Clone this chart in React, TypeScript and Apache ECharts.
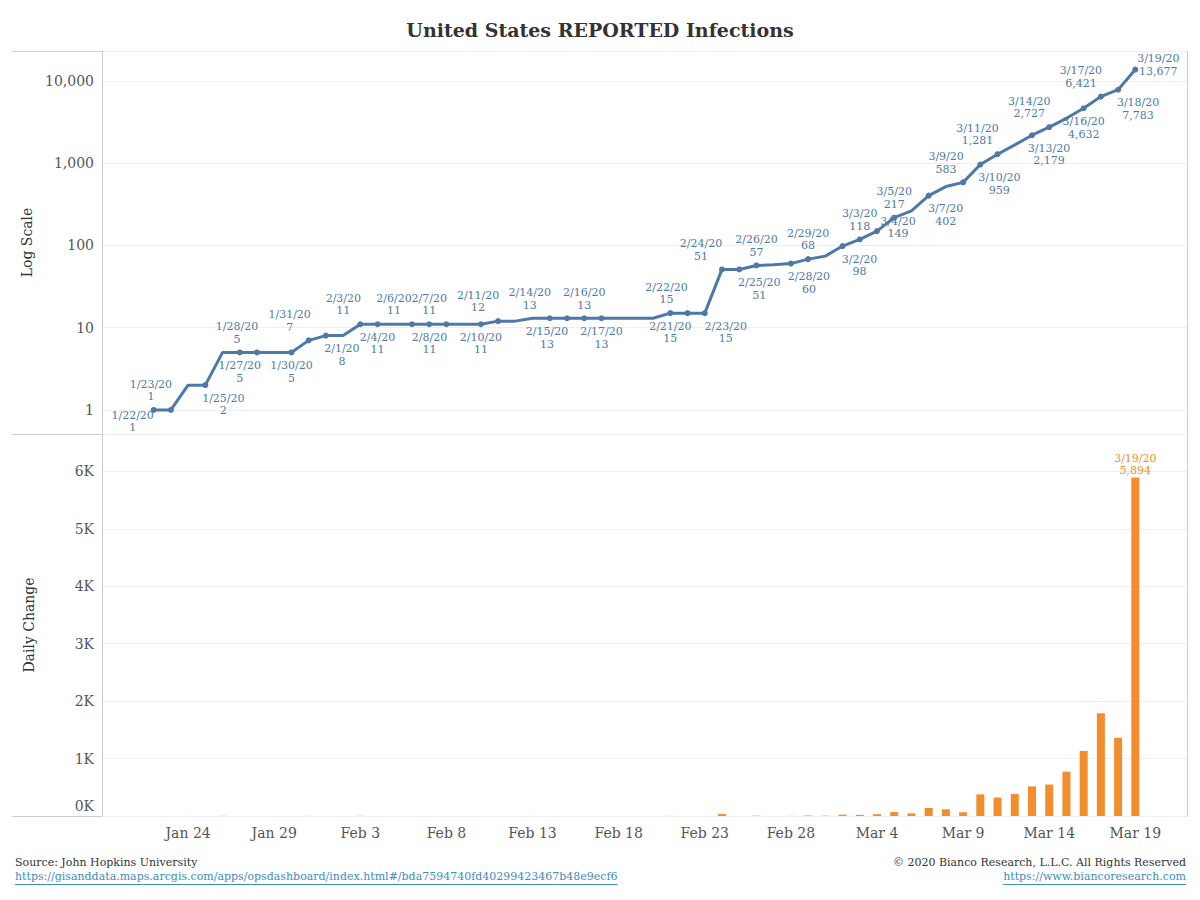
import React, { useEffect, useRef } from "react";
import * as echarts from "echarts";

const dates = [
  "1/22/20", "1/23/20", "1/24/20", "1/25/20", "1/26/20", "1/27/20", "1/28/20", "1/29/20", "1/30/20", "1/31/20",
  "2/1/20", "2/2/20", "2/3/20", "2/4/20", "2/5/20", "2/6/20", "2/7/20", "2/8/20", "2/9/20", "2/10/20",
  "2/11/20", "2/12/20", "2/13/20", "2/14/20", "2/15/20", "2/16/20", "2/17/20", "2/18/20", "2/19/20", "2/20/20",
  "2/21/20", "2/22/20", "2/23/20", "2/24/20", "2/25/20", "2/26/20", "2/27/20", "2/28/20", "2/29/20",
  "3/1/20", "3/2/20", "3/3/20", "3/4/20", "3/5/20", "3/6/20", "3/7/20", "3/8/20", "3/9/20", "3/10/20",
  "3/11/20", "3/12/20", "3/13/20", "3/14/20", "3/15/20", "3/16/20", "3/17/20", "3/18/20", "3/19/20",
];

const cumulative = [
  1, 1, 2, 2, 5, 5, 5, 5, 5, 7,
  8, 8, 11, 11, 11, 11, 11, 11, 11, 11,
  12, 12, 13, 13, 13, 13, 13, 13, 13, 13,
  15, 15, 15, 51, 51, 57, 58, 60, 68,
  74, 98, 118, 149, 217, 262, 402, 518, 583, 959,
  1281, 1663, 2179, 2727, 3499, 4632, 6421, 7783, 13677,
];

const dailyChange = [
  0, 0, 1, 0, 3, 0, 0, 0, 0, 2,
  1, 0, 3, 0, 0, 0, 0, 0, 0, 0,
  1, 0, 1, 0, 0, 0, 0, 0, 0, 0,
  2, 0, 0, 36, 0, 6, 1, 2, 8,
  6, 24, 20, 31, 68, 45, 140, 116, 65, 376,
  322, 382, 516, 548, 772, 1133, 1789, 1362, 5894,
];

const padBefore = ["1/19/20", "1/20/20", "1/21/20"];
const padAfter = ["3/20/20", "3/21/20", "3/22/20"];

const tickDates = ["1/24/20", "1/29/20", "2/3/20", "2/8/20", "2/13/20", "2/18/20", "2/23/20", "2/28/20", "3/4/20", "3/9/20", "3/14/20", "3/19/20"];
const tickLabels = ["Jan 24", "Jan 29", "Feb 3", "Feb 8", "Feb 13", "Feb 18", "Feb 23", "Feb 28", "Mar 4", "Mar 9", "Mar 14", "Mar 19"];

const logTicks = [1, 10, 100, 1000, 10000];
const barTicks = [0, 1000, 2000, 3000, 4000, 5000, 6000];

// label placement for annotated points: [position, dx, dy]
const labelPlacement: Record<string, [string, number, number]> = {
  "1/22/20": ["bottom", -21, -8],
  "1/23/20": ["top", -20, 0],
  "1/25/20": ["bottom", 18, 0],
  "1/27/20": ["bottom", 0, 0],
  "1/28/20": ["top", -20, 0],
  "1/30/20": ["bottom", 0, 0],
  "1/31/20": ["top", -19, 0],
  "2/1/20": ["bottom", 16, 0],
  "2/3/20": ["top", -17, 0],
  "2/4/20": ["bottom", 0, 0],
  "2/6/20": ["top", -18, 0],
  "2/7/20": ["top", 0, 0],
  "2/8/20": ["bottom", -17, 0],
  "2/10/20": ["bottom", 0, 0],
  "2/11/20": ["top", -20, 0],
  "2/14/20": ["top", -20, 0],
  "2/15/20": ["bottom", -20, 0],
  "2/16/20": ["top", 0, 0],
  "2/17/20": ["bottom", 0, 0],
  "2/21/20": ["bottom", 0, 0],
  "2/22/20": ["top", -21, 0],
  "2/23/20": ["bottom", 21, 0],
  "2/24/20": ["top", -21, 0],
  "2/25/20": ["bottom", 20, 0],
  "2/26/20": ["top", 0, 0],
  "2/28/20": ["bottom", 18, 0],
  "2/29/20": ["top", 0, 0],
  "3/2/20": ["bottom", 17, 0],
  "3/3/20": ["top", 0, 0],
  "3/4/20": ["top", 21, 16],
  "3/5/20": ["top", 0, 0],
  "3/7/20": ["bottom", 17, 0],
  "3/9/20": ["top", -17, 0],
  "3/10/20": ["bottom", 19, 0],
  "3/11/20": ["top", -20, 0],
  "3/13/20": ["bottom", 17, 0],
  "3/14/20": ["top", -20, 0],
  "3/16/20": ["bottom", 0, 0],
  "3/17/20": ["top", -20, 0],
  "3/18/20": ["bottom", 20, 0],
  "3/19/20": ["top", 23, 15],
};

const FONT = "'DejaVu Serif', Georgia, serif";
const BLUE = "#4e79a7";
const ORANGE = "#f28e2b";
const LINK = "#3d8dbb";

function fmt(n: number) {
  return n.toLocaleString("en-US");
}

function measure(text: string, size: number) {
  const c = document.createElement("canvas").getContext("2d");
  if (!c) return text.length * size * 0.55;
  c.font = `${size}px "DejaVu Serif"`;
  return c.measureText(text).width;
}

export default function App() {
  const ref = useRef<HTMLDivElement>(null);

  useEffect(() => {
    if (!ref.current) return;
    const chart = echarts.init(ref.current, undefined, { renderer: "svg" });

    const categories = [...padBefore, ...dates, ...padAfter];
    const nullsBefore = padBefore.map(() => "-");
    const nullsAfter = padAfter.map(() => "-");

    const lineData = dates.map((d, i) => {
      const p = labelPlacement[d];
      if (!p) return { value: cumulative[i], symbol: "none" };
      const [pos, dx, dy] = p;
      return {
        value: cumulative[i],
        symbol: "circle",
        symbolSize: 6,
        label: {
          show: true,
          position: pos,
          align: "center",
          distance: 4,
          offset: [dx, dy],
          formatter: `${d}\n${fmt(cumulative[i])}`,
        },
      };
    });

    const barData = dates.map((d, i) => {
      if (i === dates.length - 1) {
        return {
          value: dailyChange[i],
          label: {
            show: true,
            position: "top",
            distance: 1,
            formatter: `${d}\n${fmt(dailyChange[i])}`,
            color: ORANGE,
            fontFamily: FONT,
            fontSize: 11,
            lineHeight: 12,
          },
        };
      }
      return i === 0 ? "-" : dailyChange[i];
    });

    const src1 = "Source: John Hopkins University";
    const link1 = "https://gisanddata.maps.arcgis.com/apps/opsdashboard/index.html#/bda7594740fd40299423467b48e9ecf6";
    const src2 = "\u00a9 2020 Bianco Research, L.L.C. All Rights Reserved";
    const link2 = "https://www.biancoresearch.com";
    const fs = 11;
    const w1 = measure(link1, fs);
    const w2 = measure(link2, fs);

    const sep = { stroke: "#cccccc", lineWidth: 1 };

    chart.setOption({
      animation: false,
      backgroundColor: "#ffffff",
      title: {
        text: "United States REPORTED Infections",
        left: "center",
        top: 15,
        textStyle: { fontFamily: FONT, fontWeight: "bold", fontSize: 19, color: "#333333" },
      },
      grid: [
        { left: 102, right: 13, top: 51, height: 383 },
        { left: 102, right: 13, top: 434, height: 382 },
      ],
      xAxis: [
        {
          type: "category",
          gridIndex: 0,
          data: categories,
          boundaryGap: false,
          axisLine: { show: false },
          axisTick: { show: false },
          axisLabel: { show: false },
          splitLine: { show: false },
        },
        {
          type: "category",
          gridIndex: 1,
          data: categories,
          boundaryGap: false,
          axisLine: { show: false },
          axisTick: { show: false },
          splitLine: { show: false },
          axisLabel: {
            interval: (_idx: number, val: string) => tickDates.includes(val),
            formatter: (val: string) => {
              const k = tickDates.indexOf(val);
              return k >= 0 ? tickLabels[k] : "";
            },
            margin: 10,
            fontFamily: FONT,
            fontSize: 14,
            color: "#555555",
          },
        },
      ],
      yAxis: [
        {
          type: "log",
          logBase: 10,
          gridIndex: 0,
          min: 0.51,
          max: 23000,
          name: "Log Scale",
          nameLocation: "middle",
          nameGap: 66,
          nameTextStyle: { fontFamily: FONT, fontSize: 14, color: "#333333" },
          axisLine: { show: true, lineStyle: { color: "#cccccc" } },
          axisTick: { show: false },
          splitLine: { show: true, lineStyle: { color: "#efefef" } },
          axisLabel: {
            margin: 8,
            fontFamily: FONT,
            fontSize: 14,
            color: "#555555",
            formatter: (v: number) => {
              const t = logTicks.find((x) => Math.abs(x - v) / x < 1e-6);
              return t ? fmt(t) : "";
            },
          },
        },
        {
          type: "value",
          gridIndex: 1,
          min: 0,
          max: 6650,
          interval: 1000,
          name: "Daily Change",
          nameLocation: "middle",
          nameGap: 66,
          nameTextStyle: { fontFamily: FONT, fontSize: 14, color: "#333333" },
          axisLine: { show: true, lineStyle: { color: "#cccccc" } },
          axisTick: { show: false },
          splitLine: { show: true, lineStyle: { color: "#efefef" } },
          axisLabel: {
            margin: 8,
            fontFamily: FONT,
            fontSize: 14,
            color: "#555555",
            formatter: (v: number) => {
              if (!barTicks.includes(v)) return "";
              if (v === 0) return "{z|0K}";
              return `${v / 1000}K`;
            },
            rich: {
              z: { fontFamily: FONT, fontSize: 14, color: "#555555", padding: [0, 0, 20, 0] },
            },
          },
        },
      ],
      series: [
        {
          type: "line",
          xAxisIndex: 0,
          yAxisIndex: 0,
          data: [...nullsBefore, ...lineData, ...nullsAfter],
          showSymbol: true,
          lineStyle: { color: BLUE, width: 3 },
          itemStyle: { color: BLUE },
          label: {
            fontFamily: FONT,
            fontSize: 11,
            lineHeight: 12.5,
            color: BLUE,
          },
          emphasis: { disabled: true },
          z: 3,
        },
        {
          type: "bar",
          xAxisIndex: 1,
          yAxisIndex: 1,
          data: [...nullsBefore, ...barData, ...nullsAfter],
          barWidth: 8,
          itemStyle: { color: ORANGE },
          emphasis: { disabled: true },
        },
      ],
      graphic: [
        { type: "line", shape: { x1: 12, y1: 51.5, x2: 1187, y2: 51.5 }, style: sep, silent: true },
        { type: "line", shape: { x1: 12, y1: 434.5, x2: 1187, y2: 434.5 }, style: sep, silent: true },
        { type: "line", shape: { x1: 12, y1: 816.5, x2: 1187, y2: 816.5 }, style: sep, silent: true },
        { type: "line", shape: { x1: 1187.5, y1: 51, x2: 1187.5, y2: 817 }, style: sep, silent: true },
        {
          type: "text",
          left: 15,
          top: 857,
          style: { text: src1, fontFamily: FONT, fontSize: fs, fill: "#333333" },
        },
        {
          type: "text",
          left: 15,
          top: 871,
          style: { text: link1, fontFamily: FONT, fontSize: fs, fill: LINK },
        },
        { type: "line", shape: { x1: 15, y1: 884.5, x2: 15 + w1, y2: 884.5 }, style: { stroke: LINK, lineWidth: 1 }, silent: true },
        {
          type: "text",
          right: 14,
          top: 857,
          style: { text: src2, fontFamily: FONT, fontSize: fs, fill: "#333333" },
        },
        {
          type: "text",
          right: 14,
          top: 871,
          style: { text: link2, fontFamily: FONT, fontSize: fs, fill: LINK },
        },
        { type: "line", shape: { x1: 1186 - w2, y1: 884.5, x2: 1186, y2: 884.5 }, style: { stroke: LINK, lineWidth: 1 }, silent: true },
      ],
    });

    return () => chart.dispose();
  }, []);

  return <div ref={ref} style={{ position: "absolute", left: 0, top: 0, width: 1200, height: 900 }} />;
}
